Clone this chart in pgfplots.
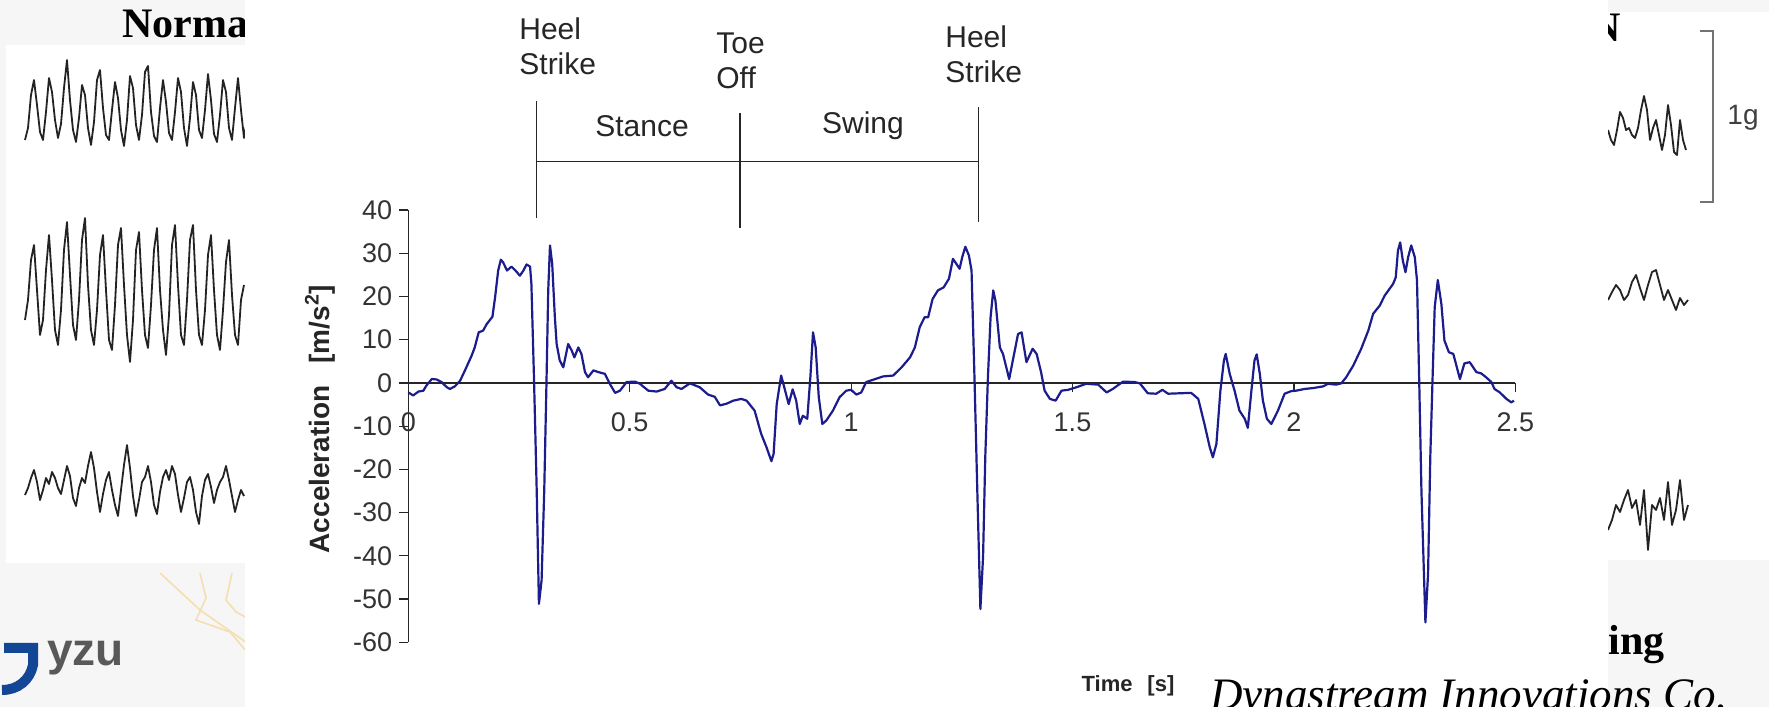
\documentclass[border=0pt]{standalone}
\usepackage{pgfplots}
\pgfplotsset{compat=1.18}
\usepackage{fontspec}
\setmainfont{Liberation Sans}
\newfontfamily\timesfont{Liberation Serif}
\definecolor{navyline}{RGB}{28,28,140}
\definecolor{slidebg}{RGB}{246,246,246}
\definecolor{squig}{RGB}{35,35,35}
\definecolor{yzublue}{RGB}{20,70,150}
\definecolor{mapbeige}{RGB}{245,222,175}

\pgfplotstableread{
t v
0.000 -2.2
0.011 -2.9
0.023 -2.0
0.034 -1.8
0.041 -0.6
0.053 0.9
0.064 0.8
0.075 0.2
0.087 -1.0
0.094 -1.4
0.105 -0.8
0.117 0.5
0.128 2.9
0.143 6.3
0.150 8.2
0.159 11.7
0.169 12.1
0.177 13.6
0.190 15.3
0.196 19.8
0.203 26.0
0.209 28.5
0.214 27.9
0.223 26.0
0.233 26.9
0.242 26.0
0.252 24.8
0.260 26.0
0.267 27.4
0.275 26.9
0.278 22.9
0.284 0.5
0.290 -24.9
0.295 -51.1
0.301 -45.7
0.307 -24.9
0.312 -0.2
0.316 21.4
0.320 31.8
0.325 27.5
0.331 15.2
0.335 9.0
0.342 5.2
0.350 3.6
0.361 9.0
0.369 7.5
0.375 5.9
0.384 8.2
0.391 6.7
0.399 2.5
0.406 1.3
0.418 2.9
0.429 2.5
0.444 2.1
0.455 -0.2
0.467 -2.3
0.478 -1.8
0.493 0.2
0.512 0.3
0.523 -0.2
0.542 -1.8
0.561 -2.0
0.579 -1.4
0.594 0.5
0.606 -1.0
0.617 -1.4
0.636 -0.1
0.658 -1.0
0.677 -2.7
0.692 -3.2
0.704 -5.2
0.719 -4.8
0.734 -4.1
0.752 -3.7
0.764 -4.1
0.782 -6.4
0.797 -11.8
0.809 -14.9
0.820 -18.1
0.825 -16.4
0.832 -4.9
0.842 1.7
0.849 -1.0
0.859 -4.9
0.868 -1.5
0.876 -4.1
0.884 -9.5
0.891 -7.6
0.901 -8.3
0.908 1.3
0.914 11.7
0.920 8.2
0.927 -3.3
0.935 -9.5
0.944 -8.7
0.959 -6.4
0.974 -3.3
0.989 -1.8
1.000 -1.6
1.012 -2.7
1.023 -2.2
1.034 0.2
1.049 0.7
1.072 1.5
1.095 1.7
1.114 3.6
1.133 5.9
1.144 8.2
1.155 12.9
1.166 15.2
1.174 15.2
1.184 19.4
1.196 21.4
1.209 22.1
1.221 24.1
1.230 28.7
1.238 27.5
1.245 26.4
1.251 29.1
1.258 31.5
1.266 29.5
1.272 26.0
1.279 -0.2
1.285 -24.9
1.292 -52.3
1.298 -40.3
1.303 -17.2
1.309 1.3
1.315 15.2
1.321 21.4
1.326 19.0
1.336 8.2
1.343 6.7
1.357 0.9
1.366 5.6
1.377 11.3
1.385 11.7
1.396 4.8
1.410 7.9
1.419 6.7
1.429 2.5
1.437 -1.8
1.449 -3.7
1.462 -4.1
1.475 -1.8
1.490 -1.6
1.509 -1.0
1.531 -0.2
1.558 -0.4
1.577 -2.2
1.591 -1.4
1.614 0.3
1.640 0.2
1.652 -0.1
1.670 -2.4
1.689 -2.5
1.703 -1.6
1.716 -2.5
1.742 -2.4
1.768 -2.3
1.784 -3.7
1.798 -9.5
1.810 -14.9
1.817 -17.2
1.825 -14.1
1.834 -1.8
1.842 5.2
1.846 6.7
1.855 2.1
1.866 -1.8
1.877 -6.4
1.889 -8.3
1.896 -10.4
1.904 -1.8
1.911 5.2
1.916 6.6
1.923 2.1
1.930 -4.1
1.939 -8.3
1.949 -9.5
1.964 -6.4
1.979 -2.5
1.994 -1.9
2.005 -1.8
2.024 -1.4
2.043 -1.2
2.066 -0.8
2.077 -0.2
2.095 -0.4
2.107 -0.1
2.118 1.3
2.134 4.0
2.152 7.9
2.168 12.1
2.179 16.0
2.194 17.9
2.205 20.2
2.224 22.9
2.230 24.4
2.235 30.6
2.240 32.5
2.246 28.3
2.252 25.6
2.258 29.1
2.265 31.8
2.273 29.1
2.278 23.7
2.283 0.5
2.288 -24.9
2.297 -55.4
2.303 -44.2
2.308 -17.2
2.313 0.5
2.318 17.5
2.325 23.8
2.333 18.3
2.340 9.8
2.350 7.1
2.360 6.7
2.368 3.6
2.375 0.9
2.385 4.5
2.397 4.8
2.412 2.5
2.423 2.2
2.434 1.3
2.446 0.2
2.453 -1.4
2.465 -2.2
2.480 -3.7
2.491 -4.5
2.497 -4.1
}\accdata

\pgfplotstableread{
x y
25 140
28 128
31 95
34 80
37 105
40 132
43 140
46 112
49 78
52 92
55 120
58 138
61 124
64 88
67 60
70 100
73 130
76 142
79 118
82 85
85 95
88 128
91 145
94 122
97 80
100 70
103 108
106 135
109 140
112 110
115 82
118 98
121 130
124 146
127 120
130 76
133 88
136 125
139 140
142 115
145 72
148 66
151 112
154 136
157 142
160 108
163 80
166 102
169 133
172 140
175 112
178 78
181 92
184 128
187 146
190 118
193 82
196 95
199 130
202 138
205 110
208 74
211 100
214 134
217 142
220 115
223 80
226 92
229 128
232 140
235 108
238 78
241 110
244 138
247 120
}\sqA

\pgfplotstableread{
x y
25 320
28 300
31 260
34 245
37 290
40 335
43 320
46 270
49 235
52 280
55 330
58 345
61 310
64 250
67 222
70 275
73 325
76 340
79 300
82 240
85 218
88 285
91 330
94 345
97 310
100 255
103 235
106 290
109 340
112 350
115 305
118 245
121 228
124 285
127 335
130 362
133 320
136 250
139 232
142 290
145 335
148 348
151 305
154 250
157 228
160 290
163 330
166 355
169 315
172 245
175 225
178 285
181 335
184 345
187 300
190 240
193 225
196 290
199 335
202 345
205 310
208 255
211 235
214 290
217 335
220 350
223 310
226 262
229 240
232 295
235 335
238 345
241 300
244 285
}\sqB

\pgfplotstableread{
x y
25 495
28 488
31 478
34 470
37 482
40 500
43 490
46 478
49 484
52 472
55 478
58 488
61 494
64 480
67 466
70 476
73 498
76 506
79 488
82 478
85 483
88 466
91 452
94 468
97 492
100 512
103 494
106 480
109 472
112 490
115 505
118 516
121 490
124 465
127 445
130 468
133 496
136 516
139 500
142 482
145 477
148 466
151 482
154 505
157 514
160 492
163 477
166 470
169 480
172 466
175 474
178 495
181 512
184 498
187 482
190 477
193 490
196 512
199 524
202 496
205 480
208 474
211 487
214 503
217 490
220 482
223 477
226 466
229 480
232 496
235 512
238 500
241 490
244 496
}\sqC

\pgfplotstableread{
x y
1608 130
1611 140
1614 145
1617 130
1620 112
1623 118
1626 130
1629 128
1632 135
1635 138
1638 128
1641 110
1644 96
1647 110
1650 140
1653 128
1656 120
1659 135
1662 150
1665 135
1668 105
1671 125
1674 152
1677 155
1680 120
1683 140
1686 150
}\sqD

\pgfplotstableread{
x y
1608 300
1612 292
1616 285
1620 290
1624 300
1628 295
1632 282
1636 275
1640 288
1644 300
1648 285
1652 272
1656 270
1660 285
1664 300
1668 290
1672 300
1676 310
1680 298
1684 305
1688 300
}\sqE

\pgfplotstableread{
x y
1608 530
1612 520
1616 505
1620 512
1624 500
1628 490
1632 508
1636 500
1640 525
1644 490
1648 550
1652 505
1656 510
1660 498
1664 520
1668 482
1672 525
1676 510
1680 480
1684 520
1688 505
}\sqF

\begin{document}
\begin{tikzpicture}
\useasboundingbox (0,0) rectangle (884.5pt,353.5pt);
\fill[slidebg] (0,0) rectangle (884.5pt,353.5pt);
\begin{scope}[shift={(0pt,353.5pt)}, x=0.5pt, y=-0.5pt]
  \fill[white] (6,45) rectangle (245,563);
  \fill[white] (1608,12) rectangle (1769,560);
  \draw[mapbeige, line width=0.8pt] (160,573) -- (200,610) -- (247,643);
  \draw[mapbeige, line width=0.8pt] (200,573) -- (206,598) -- (196,620) -- (230,632) -- (247,652);
  \draw[mapbeige, line width=0.8pt] (232,573) -- (226,600) -- (236,612) -- (247,618);
  \node[anchor=base west, inner sep=0, font=\timesfont\bfseries\fontsize{21}{24}\selectfont] at (122,38) {Norma};
  \node[anchor=base west, inner sep=0, font=\timesfont\bfseries\fontsize{21}{24}\selectfont] at (1590,42) {N};
  \node[anchor=base west, inner sep=0, font=\timesfont\bfseries\fontsize{21}{24}\selectfont] at (1608,655) {ing};
\end{scope}

% slide background signal traces
\begin{axis}[at={(0pt,0pt)}, anchor=south west, scale only axis,
  width=884.5pt, height=353.5pt, xmin=0, xmax=1769, ymin=0, ymax=707,
  y dir=reverse, hide axis, clip=false]
  \addplot[squig, line width=0.9pt, line join=round] table {\sqA};
  \addplot[squig, line width=0.9pt, line join=round] table {\sqB};
  \addplot[squig, line width=0.9pt, line join=round] table {\sqC};
  \addplot[squig, line width=0.9pt, line join=round] table {\sqD};
  \addplot[squig, line width=0.9pt, line join=round] table {\sqE};
  \addplot[squig, line width=0.9pt, line join=round] table {\sqF};
\end{axis}

% chart overlay
\fill[white] (122.5pt,0pt) rectangle (804pt,353.5pt);

\begin{axis}[
  at={(204.15pt,32.35pt)}, anchor=south west,
  scale only axis, width=553.5pt, height=216.15pt,
  xmin=0, xmax=2.5, ymin=-60, ymax=40,
  axis y line=left, axis x line=middle,
  hide obscured x ticks=false, hide obscured y ticks=false,
  axis line style={-, line width=0.75pt, black!85},
  xtick={0,0.5,1,1.5,2,2.5}, ytick={-60,-50,...,40},
  tick align=outside, major tick length=4.5pt,
  tick style={black!85, line width=0.6pt},
  /pgf/number format/assume math mode=true,
  xticklabel={\pgfmathprintnumber{\tick}},
  yticklabel={\pgfmathprintnumber{\tick}},
  ticklabel style={font=\fontsize{13.5}{15}\selectfont, text=black!80},
  xticklabel style={yshift=-7pt},
  clip=false,
]
\addplot[navyline, line width=1.1pt, line join=round] table {\accdata};
\end{axis}

\begin{scope}[shift={(0pt,353.5pt)}, x=0.5pt, y=-0.5pt]
  \draw[black!85, line width=0.75pt] (536.5,101.5) -- (536.5,217.7);
  \draw[black!85, line width=0.75pt] (740,112.8) -- (740,227.9);
  \draw[black!85, line width=0.75pt] (978.3,107) -- (978.3,222);
  \draw[black!85, line width=0.75pt] (536.5,161.3) -- (978.3,161.3);
  \node[anchor=north west, inner sep=0, align=left, text=black!85, font=\fontsize{15}{17.5}\selectfont] at (519,17) {Heel\\Strike};
  \node[anchor=north west, inner sep=0, align=left, text=black!85, font=\fontsize{15}{17.5}\selectfont] at (716,32) {Toe\\Off};
  \node[anchor=north west, inner sep=0, align=left, text=black!85, font=\fontsize{15}{17.5}\selectfont] at (945,25) {Heel\\Strike};
  \node[text=black!85, inner sep=0, font=\fontsize{15}{17.5}\selectfont] at (642,126) {Stance};
  \node[text=black!85, inner sep=0, font=\fontsize{15}{17.5}\selectfont] at (863,126) {Swing};
  \node[rotate=90, inner sep=0, text=black!85, font=\bfseries\fontsize{14}{16}\selectfont] at (320,419) {Acceleration\hspace{0.5em} [m/s\textsuperscript{2}]};
  \node[inner sep=0, text=black!85, font=\bfseries\fontsize{11}{13}\selectfont] at (1128,686) {Time\hspace{0.4em} [s]};
  % 1g scale bar
  \draw[black!55, line width=0.8pt] (1700,31) -- (1713,31) -- (1713,202) -- (1700,202);
  \node[inner sep=0, text=black!75, font=\fontsize{14}{16}\selectfont] at (1743,118) {1g};
  % logo
  \draw[yzublue, line width=5pt] (2,690) .. controls (18,690) and (30,680) .. (33,665) -- (33,648) -- (4,648);
  \node[anchor=base west, inner sep=0, text=black!65, font=\bfseries\fontsize{23}{26}\selectfont] at (47,666) {yzu};
  \node[anchor=base west, inner sep=0, font=\timesfont\itshape\fontsize{22.5}{26}\selectfont] at (1210,710) {Dynastream Innovations Co.};
\end{scope}
\end{tikzpicture}
\end{document}
